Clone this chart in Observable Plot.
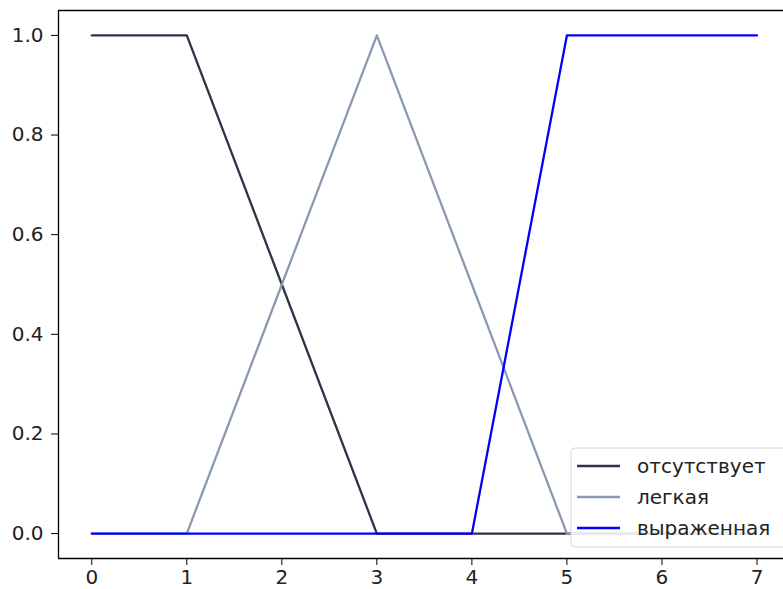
<!DOCTYPE html>
<html>
<head>
<meta charset="utf-8">
<script src="https://cdn.jsdelivr.net/npm/d3@7"></script>
<script src="https://cdn.jsdelivr.net/npm/@observablehq/plot@0.6"></script>
<style>
  html, body { margin: 0; padding: 0; background: #fff; }
  svg { display: block; }
</style>
</head>
<body>
<div id="chart"></div>
<script>
const xs = [0, 1, 2, 3, 4, 5, 6, 7];
const absent = [1, 1, 0.5, 0, 0, 0, 0, 0];
const light = [0, 0, 0.5, 1, 0.5, 0, 0, 0];
const severe = [0, 0, 0, 0, 0, 1, 1, 1];
const seriesNames = ["отсутствует", "легкая", "выраженная"];
const seriesColors = ["#2e3448", "#8c99b3", "#0000ff"];
const xTicks = [0, 1, 2, 3, 4, 5, 6, 7];
const yTicks = [0, 0.2, 0.4, 0.6, 0.8, 1.0];

const seriesValues = [absent, light, severe];
const data = seriesValues.flatMap((vals, i) =>
  xs.map((x, j) => ({ x, y: vals[j], s: seriesNames[i] })));

const xDomain = [-0.35, 7.279];
const yDomain = [-0.05, 1.05];

const chart = Plot.plot({
  width: 783,
  height: 589,
  marginLeft: 58,
  marginRight: 0,
  marginTop: 10,
  marginBottom: 31,
  style: { fontFamily: "DejaVu Sans", fontSize: "20px", color: "#000", background: "#fff" },
  x: { domain: xDomain, label: null },
  y: { domain: yDomain, label: null },
  color: { domain: seriesNames, range: seriesColors },
  marks: [
    Plot.line(data, { x: "x", y: "y", z: "s", stroke: "s", strokeWidth: 2.3 }),
    Plot.ruleX([xDomain[0]], { stroke: "#000", strokeWidth: 1.3 }),
    Plot.ruleY([yDomain[0], yDomain[1]], { stroke: "#000", strokeWidth: 1.3 }),
    Plot.axisX({ ticks: xTicks, tickSize: 7, tickPadding: 4, tickFormat: d => String(d), fontSize: 20, fill: "#222" }),
    Plot.axisY({ ticks: yTicks, tickSize: 7, tickPadding: 8, tickFormat: d => d.toFixed(1), fontSize: 20, fill: "#222" })
  ]
});

// Legend (matplotlib-style box, lower right)
const svg = d3.select(chart);
const lg = svg.append("g")
  .attr("font-family", "DejaVu Sans").attr("font-size", 20).attr("text-anchor", "start");
lg.append("rect")
  .attr("x", 571).attr("y", 448).attr("width", 230).attr("height", 99)
  .attr("rx", 4).attr("fill", "#fff").attr("fill-opacity", 0.8)
  .attr("stroke", "#d6d6d6").attr("stroke-width", 1);
seriesNames.forEach((name, i) => {
  const cy = 466 + i * 31;
  lg.append("line").attr("x1", 577).attr("x2", 620).attr("y1", cy).attr("y2", cy)
    .attr("stroke", seriesColors[i]).attr("stroke-width", 2.3);
  lg.append("text").attr("x", 637).attr("y", cy).attr("dy", "0.35em")
    .attr("text-anchor", "start").attr("fill", "#222").text(name);
});

document.getElementById("chart").appendChild(chart);
</script>
</body>
</html>
